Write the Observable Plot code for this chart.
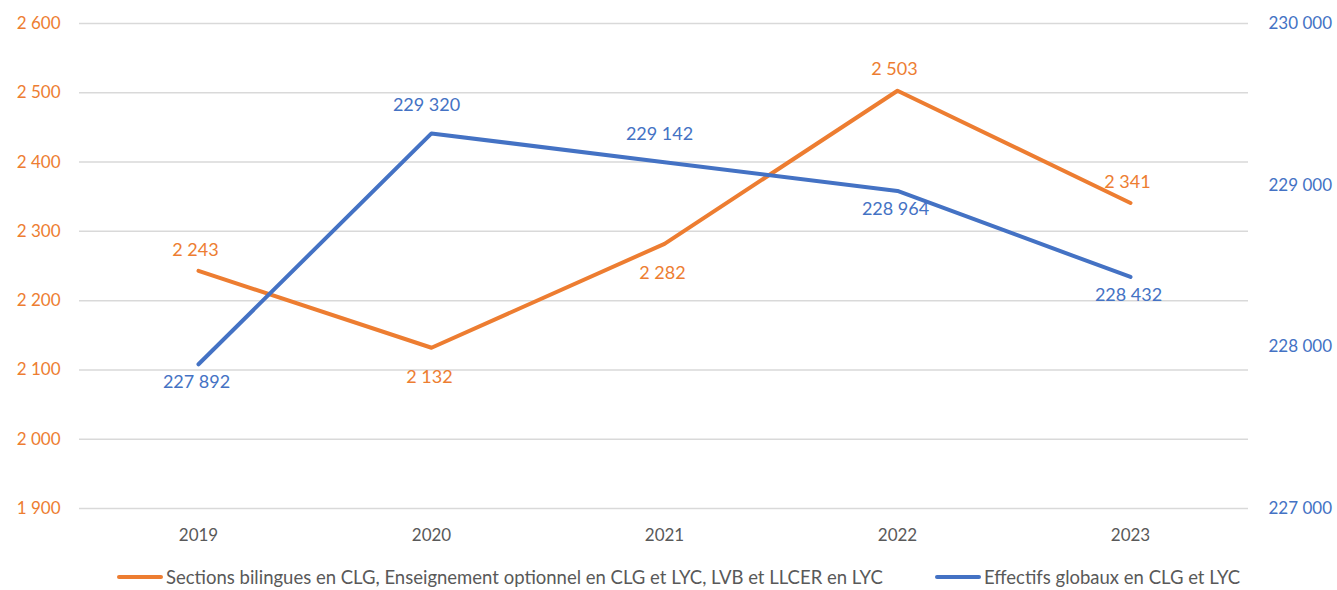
<!DOCTYPE html>
<html>
<head>
<meta charset="utf-8">
<script src="https://cdn.jsdelivr.net/npm/d3@7"></script>
<script src="https://cdn.jsdelivr.net/npm/@observablehq/plot@0.6"></script>
<style>
  html, body { margin: 0; padding: 0; background: #fff; }
  body { width: 1337px; height: 590px; overflow: hidden; font-family: Lato, "Open Sans", sans-serif; }
  #legend { position: relative; height: 28px; font-size: 18.5px; color: #595959; }
  .item { position: absolute; top: 4px; display: flex; align-items: center; white-space: nowrap; }
  .sw { display: inline-block; width: 46px; height: 4px; border-radius: 2px; margin-right: 3px; }
</style>
</head>
<body>
<div id="chart"></div>
<div id="legend"></div>
<script>
const years = ["2019", "2020", "2021", "2022", "2023"];
const bilingualValues = [2243, 2132, 2282, 2503, 2341];
const globalValues = [227892, 229320, 229142, 228964, 228432];
const bilingualLabelPos = ["above", "below", "below", "above", "above"];
const globalLabelPos = ["below", "above", "above", "below", "below"];
const leftTicks = [1900, 2000, 2100, 2200, 2300, 2400, 2500, 2600];
const rightTicks = [227000, 228000, 229000, 230000];
const seriesNames = [
  "Sections bilingues en CLG, Enseignement optionnel en CLG et LYC, LVB et LLCER en LYC",
  "Effectifs globaux en CLG et LYC"
];

const ORANGE = "#ED7D31", BLUE = "#4472C4", GRAY = "#595959", GRID = "#D9D9D9";
const fr = d3.formatLocale({decimal: ",", thousands: "\u00a0", grouping: [3], currency: ["", " €"]});
const fmt = fr.format(",d");

// map right axis domain [227000, 230000] onto left domain [1900, 2600]
const L0 = 1900, L1 = 2600, R0 = 227000, R1 = 230000;
const toLeft = v => L0 + (v - R0) * (L1 - L0) / (R1 - R0);
const toRight = v => R0 + (v - L0) * (R1 - R0) / (L1 - L0);

const orange = years.map((y, i) => ({year: y, value: bilingualValues[i], pos: bilingualLabelPos[i]}));
const blue = years.map((y, i) => ({year: y, value: globalValues[i], y: toLeft(globalValues[i]), pos: globalLabelPos[i]}));

const W = 1337, H = 562;
const FONT = "Lato, 'Open Sans', sans-serif";
const chart = Plot.plot({
  width: W,
  height: H,
  marginLeft: 79,
  marginRight: 89,
  marginTop: 23,
  marginBottom: 54,
  style: {fontFamily: FONT, fontSize: "17px", background: "#fff"},
  x: {type: "point", domain: years, padding: 0.5},
  y: {domain: [L0, L1]},
  marks: [
    Plot.gridY(leftTicks, {stroke: GRID, strokeOpacity: 1, strokeWidth: 1.5}),
    Plot.axisY(leftTicks, {anchor: "left", tickSize: 0, tickPadding: 19, tickFormat: fmt, fill: ORANGE, fontSize: 17, label: null}),
    Plot.axisY(rightTicks.map(toLeft), {anchor: "right", tickSize: 0, tickPadding: 20, tickFormat: d => fmt(Math.round(toRight(d))), fill: BLUE, fontSize: 17, label: null, textAnchor: "start"}),
    Plot.axisX(years, {tickSize: 0, tickPadding: 20, fill: GRAY, fontSize: 17, label: null}),
    Plot.line(orange, {x: "year", y: "value", stroke: ORANGE, strokeWidth: 4, strokeLinecap: "round", strokeLinejoin: "round"}),
    Plot.line(blue, {x: "year", y: "y", stroke: BLUE, strokeWidth: 4, strokeLinecap: "round", strokeLinejoin: "round"}),
    Plot.text(orange.filter(d => d.pos === "above"), {x: "year", y: "value", text: d => fmt(d.value), dy: -21, dx: -3, fill: ORANGE, fontSize: 18}),
    Plot.text(orange.filter(d => d.pos === "below"), {x: "year", y: "value", text: d => fmt(d.value), dy: 29, dx: -2, fill: ORANGE, fontSize: 18}),
    Plot.text(blue.filter(d => d.pos === "above"), {x: "year", y: "y", text: d => fmt(d.value), dy: -28, dx: -5, fill: BLUE, fontSize: 18}),
    Plot.text(blue.filter(d => d.pos === "below"), {x: "year", y: "y", text: d => fmt(d.value), dy: 18, dx: -2, fill: BLUE, fontSize: 18})
  ]
});
document.getElementById("chart").appendChild(chart);

const legend = document.getElementById("legend");
[[seriesNames[0], ORANGE, 117], [seriesNames[1], BLUE, 935]].forEach(([name, color, left]) => {
  const item = document.createElement("div");
  item.className = "item";
  item.style.left = left + "px";
  item.innerHTML = `<span class="sw" style="background:${color}"></span><span>${name}</span>`;
  legend.appendChild(item);
});
</script>
</body>
</html>
